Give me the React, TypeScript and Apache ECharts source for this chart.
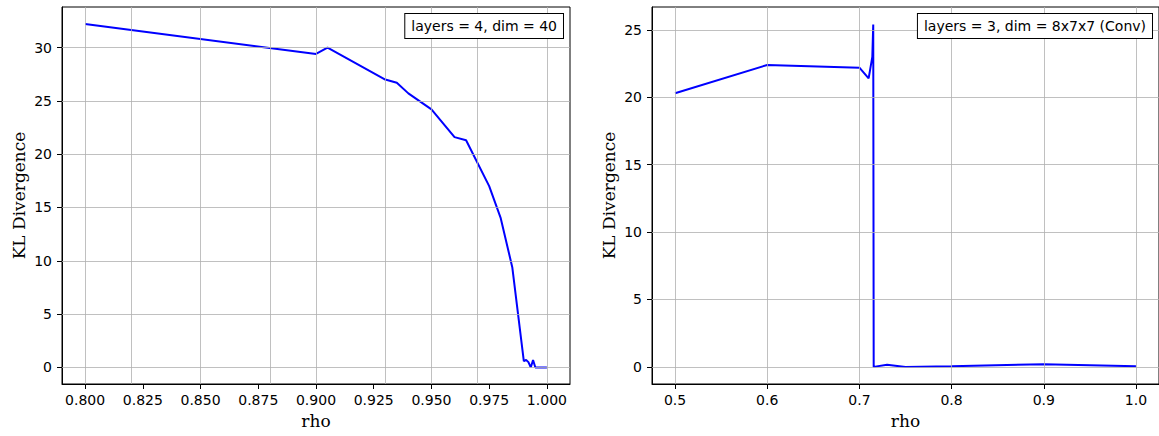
import React, { useEffect, useRef } from "react";
import * as echarts from "echarts";

const leftRho = [0.8, 0.9, 0.905, 0.93, 0.935, 0.94, 0.95, 0.96, 0.965, 0.975, 0.98, 0.985, 0.99, 0.991, 0.992, 0.993, 0.994, 0.995, 1.0];
const leftKL = [32.2, 29.4, 30.0, 27.0, 26.7, 25.7, 24.2, 21.6, 21.3, 17.0, 14.0, 9.4, 0.6, 0.7, 0.5, 0.0, 0.7, 0.0, 0.0];

const rightRho = [0.5, 0.6, 0.7, 0.71, 0.714, 0.715, 0.7155, 0.73, 0.75, 0.8, 0.9, 1.0];
const rightKL = [20.3, 22.4, 22.2, 21.4, 23.0, 25.4, 0.0, 0.15, 0.0, 0.05, 0.2, 0.05];

const leftXTicks = [0.8, 0.825, 0.85, 0.875, 0.9, 0.925, 0.95, 0.975, 1.0];
const leftYTicks = [0, 5, 10, 15, 20, 25, 30];
const rightXTicks = [0.5, 0.6, 0.7, 0.8, 0.9, 1.0];
const rightYTicks = [0, 5, 10, 15, 20, 25];

const leftLabel = "layers = 4, dim = 40";
const rightLabel = "layers = 3, dim = 8x7x7 (Conv)";
const xName = "rho";
const yName = "KL Divergence";

const tickFont = { fontFamily: "DejaVu Sans", fontSize: 14, color: "#000" };
const nameFont = { fontFamily: "DejaVu Serif", fontSize: 17, color: "#000" };

function makeXAxis(idx: number, min: number, max: number, ticks: number[], dec: number) {
  return {
    type: "value",
    gridIndex: idx,
    min,
    max,
    name: xName,
    nameLocation: "middle",
    nameGap: 28,
    nameTextStyle: nameFont,
    axisLine: { show: true, onZero: false, lineStyle: { color: "#000", width: 1 } },
    axisTick: { show: true, inside: false, length: 5, customValues: ticks, lineStyle: { color: "#000", width: 1 } },
    axisLabel: { show: true, customValues: ticks, margin: 9, formatter: (v: number) => v.toFixed(dec), ...tickFont },
    splitLine: { show: false },
  };
}

function makeYAxis(idx: number, min: number, max: number, ticks: number[]) {
  return {
    type: "value",
    gridIndex: idx,
    min,
    max,
    name: yName,
    nameLocation: "middle",
    nameGap: 35,
    nameTextStyle: nameFont,
    axisLine: { show: true, onZero: false, lineStyle: { color: "#000", width: 1 } },
    axisTick: { show: true, inside: false, length: 5, customValues: ticks, lineStyle: { color: "#000", width: 1 } },
    axisLabel: { show: true, customValues: ticks, margin: 10, formatter: (v: number) => String(v), ...tickFont },
    splitLine: { show: false },
  };
}

function gridSeries(idx: number, xs: number[], ys: number[], xTicks: number[], yTicks: number[]) {
  return {
    type: "line",
    xAxisIndex: idx,
    yAxisIndex: idx,
    data: xs.map((x, i) => [x, ys[i]]),
    showSymbol: false,
    silent: true,
    z: 1,
    lineStyle: { opacity: 0 },
    markLine: {
      silent: true,
      symbol: "none",
      animation: false,
      label: { show: false },
      lineStyle: { color: "#b0b0b0", width: 0.8, type: "solid" },
      data: [...xTicks.map((v) => ({ xAxis: v })), ...yTicks.map((v) => ({ yAxis: v }))],
    },
  };
}

function dataSeries(idx: number, xs: number[], ys: number[]) {
  return {
    type: "line",
    xAxisIndex: idx,
    yAxisIndex: idx,
    data: xs.map((x, i) => [x, ys[i]]),
    showSymbol: false,
    z: 3,
    lineStyle: { color: "#0000ff", width: 2 },
  };
}

export default function App() {
  const ref = useRef<HTMLDivElement>(null);
  useEffect(() => {
    if (!ref.current) return;
    const chart = echarts.init(ref.current, null, { renderer: "svg" });
    chart.setOption({
      animation: false,
      backgroundColor: "#fff",
      grid: [
        { left: 62, top: 7, width: 508, height: 377, show: true, borderColor: "#000", borderWidth: 1, backgroundColor: "transparent" },
        { left: 652, top: 7, width: 508, height: 377, show: true, borderColor: "#000", borderWidth: 1, backgroundColor: "transparent" },
      ],
      xAxis: [
        makeXAxis(0, 0.79, 1.01, leftXTicks, 3),
        makeXAxis(1, 0.475, 1.025, rightXTicks, 1),
      ],
      yAxis: [
        makeYAxis(0, -1.55, 33.8, leftYTicks),
        makeYAxis(1, -1.27, 26.7, rightYTicks),
      ],
      series: [
        gridSeries(0, leftRho, leftKL, leftXTicks, leftYTicks),
        dataSeries(0, leftRho, leftKL),
        gridSeries(1, rightRho, rightKL, rightXTicks, rightYTicks),
        dataSeries(1, rightRho, rightKL),
      ],
      graphic: [
        {
          type: "text",
          right: 595,
          top: 13,
          z: 10,
          style: {
            text: leftLabel,
            font: "14px 'DejaVu Sans'",
            fill: "#000",
            backgroundColor: "#fff",
            borderColor: "#000",
            borderWidth: 1,
            padding: [5, 6, 5, 6],
          },
        },
        {
          type: "text",
          right: 6,
          top: 13,
          z: 10,
          style: {
            text: rightLabel,
            font: "14px 'DejaVu Sans'",
            fill: "#000",
            backgroundColor: "#fff",
            borderColor: "#000",
            borderWidth: 1,
            padding: [5, 6, 5, 6],
          },
        },
      ],
    });
    return () => chart.dispose();
  }, []);
  return <div ref={ref} style={{ position: "fixed", left: 0, top: 0, width: 1159, height: 436 }} />;
}
